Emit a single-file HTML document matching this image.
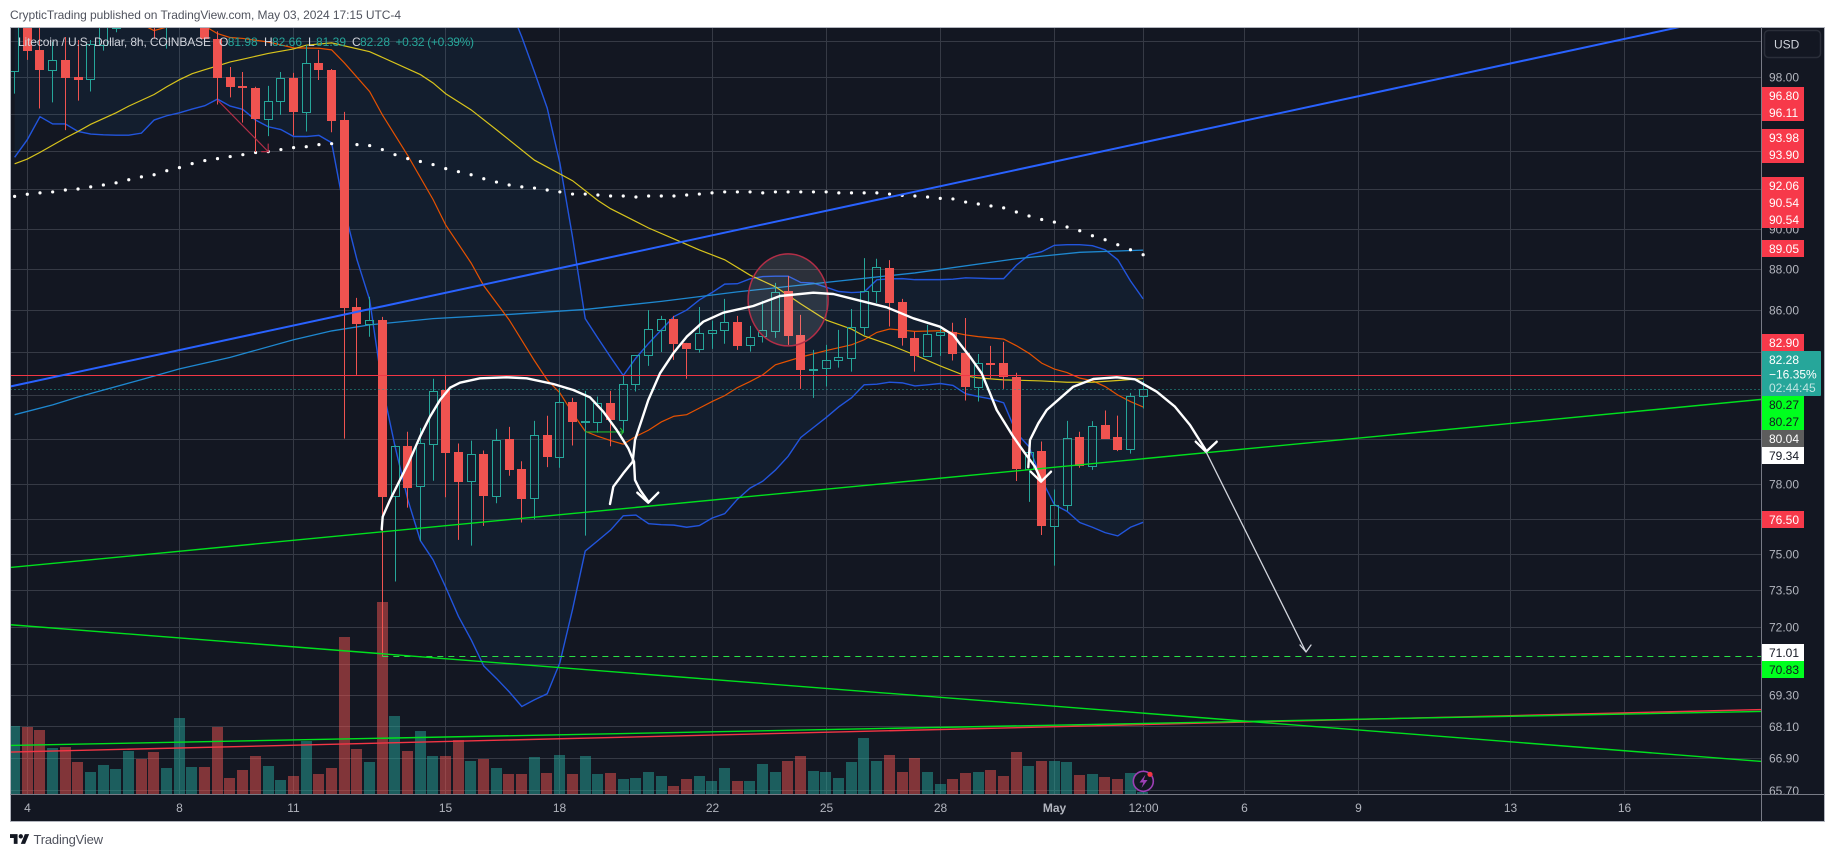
<!DOCTYPE html>
<html lang="en">
<head>
<meta charset="utf-8">
<title>Litecoin / U.S. Dollar, 8h chart</title>
<style>
html,body{margin:0;padding:0;background:#fff;width:1835px;height:857px;overflow:hidden}
svg{display:block}
text{font-family:"Liberation Sans",sans-serif}
.tick{font-size:12px;fill:#b2b5be}
.tagt{font-size:12px;fill:#fff}
.tagd{font-size:12px;fill:#131722}
.leg{font-size:12px;fill:#d1d4dc}
.val{font-size:12px;fill:#26a69a}
</style>
</head>
<body>
<svg id="chart" xmlns="http://www.w3.org/2000/svg" width="1835" height="857" viewBox="0 0 1835 857">
  <defs>
    <clipPath id="plotClip"><rect x="10.5" y="27.5" width="1751" height="767"/></clipPath>
    <clipPath id="axisClip"><rect x="1762" y="27.5" width="62" height="767"/></clipPath>
  </defs>
  <rect x="0" y="0" width="1835" height="857" fill="#ffffff"/>
  <text x="10" y="19" font-size="12" fill="#50535e" textLength="391">CrypticTrading published on TradingView.com, May 03, 2024 17:15 UTC-4</text>
  <rect x="10.5" y="27.5" width="1814" height="794" fill="#131722"/>

  <g id="gridLayer" clip-path="url(#plotClip)"></g>
  <g id="volumeLayer" clip-path="url(#plotClip)"></g>
  <g id="indicatorLayer" clip-path="url(#plotClip)"></g>
  <g id="candleLayer" clip-path="url(#plotClip)"></g>
  <g id="trendLayer" clip-path="url(#plotClip)"></g>

  <g clip-path="url(#plotClip)" fill="none" stroke="#ffffff" stroke-linecap="round" stroke-linejoin="round">
    <path stroke-width="2.4" d="M381.7 529.3 L382.7 516.7 L390 500 L398.3 483.3 L408.3 463.3 L420 436.7 L430 416.7 L440 400 L450 387.7 L460 382.7 L480 378.3 L506.7 377.3 L526.7 378.3 L553.3 384 L573.3 390 L590 397.3 L603.3 411.7 L616.7 430 L628.3 448.3 L634 461.7 L635 480 L640 490 L648.3 501.7"/>
    <path stroke-width="2.4" d="M637.3 492.7 L648.3 502.7 L658.3 492.7"/>
    <path stroke-width="2.4" d="M610 504 L613.3 486.7 L623.3 473.3 L632.7 461.7 L635 440 L641.7 420 L648.3 400 L660 373.3 L673.3 353.3 L686.7 336.7 L703.3 321.7 L723.3 312.7 L753.3 306 L780 296 L813.3 292.7 L833.3 294 L860 300.7 L886.7 307.3 L913.3 318.3 L940 326.7 L953.3 335 L960 344 L970 356.7 L981.7 373.3 L990 393.3 L996.7 410 L1013.3 436.7 L1025 453.3 L1035 466.7 L1041 480"/>
    <path stroke-width="2.4" d="M1030.7 471.7 L1041 481.7 L1051 471.7"/>
    <path stroke-width="2.4" d="M1028.3 467.3 L1030 440 L1038.3 423.3 L1046.7 410 L1060 398.3 L1073.3 386.7 L1093.3 379 L1116.7 377.3 L1135 379.3 L1156.7 391.7 L1175 406.7 L1190 425 L1205.7 450"/>
    <path stroke-width="2.4" d="M1195.7 441.7 L1206 451.7 L1216.7 441.7"/>
    <path stroke="#d1d4dc" stroke-width="1.3" d="M1206 451.7 L1306 652 M1300 645 L1306 652 L1311 645"/>
  </g>

  <g>
    <circle cx="1143.3" cy="781.3" r="10" fill="#131722" stroke="#9c3fb5" stroke-width="1.6"/>
    <path d="M1145.5 774.5 L1139.5 782.5 L1143.3 782.5 L1141.5 788 L1147.5 780 L1143.7 780 Z" fill="#9c3fb5"/>
    <circle cx="1150" cy="774.3" r="2.6" fill="#f23645"/>
  </g>

  <g>
    <text class="leg" x="18" y="46" textLength="193">Litecoin / U.S. Dollar, 8h, COINBASE</text>
    <text class="leg" x="219" y="46">O</text>
    <text class="val" x="227.7" y="46">81.98</text>
    <text class="leg" x="264" y="46">H</text>
    <text class="val" x="272" y="46">82.66</text>
    <text class="leg" x="308" y="46">L</text>
    <text class="val" x="316" y="46">81.39</text>
    <text class="leg" x="352" y="46">C</text>
    <text class="val" x="360" y="46">82.28</text>
    <text class="val" x="395.5" y="46" textLength="78.5">+0.32 (+0.39%)</text>
  </g>

  <g id="priceAxis" clip-path="url(#axisClip)"></g>
  <g id="timeAxis"></g>

  <g>
    <g transform="translate(1761,87)"><rect width="43" height="17" fill="#f7394a"/><text class="tagt" x="8" y="13">96.80</text></g>
    <g transform="translate(1761,104)"><rect width="43" height="17" fill="#f7394a"/><text class="tagt" x="8" y="13">96.11</text></g>
    <g transform="translate(1761,129)"><rect width="43" height="17" fill="#f7394a"/><text class="tagt" x="8" y="13">93.98</text></g>
    <g transform="translate(1761,146)"><rect width="43" height="17" fill="#f7394a"/><text class="tagt" x="8" y="13">93.90</text></g>
    <g transform="translate(1761,177)"><rect width="43" height="17" fill="#f7394a"/><text class="tagt" x="8" y="13">92.06</text></g>
    <g transform="translate(1761,194)"><rect width="43" height="17" fill="#f7394a"/><text class="tagt" x="8" y="13">90.54</text></g>
    <g transform="translate(1761,211)"><rect width="43" height="17" fill="#f7394a"/><text class="tagt" x="8" y="13">90.54</text></g>
    <g transform="translate(1761,240)"><rect width="43" height="17" fill="#f7394a"/><text class="tagt" x="8" y="13">89.05</text></g>
    <g transform="translate(1761,334)"><rect width="43" height="17" fill="#f7394a"/><text class="tagt" x="8" y="13">82.90</text></g>
    <g transform="translate(1761,351)">
      <rect width="60" height="45" rx="1" fill="#26a69a"/>
      <text class="tagt" x="8" y="13">82.28</text>
      <text class="tagt" x="8" y="27.3">−16.35%</text>
      <text class="tagt" x="8" y="41" fill-opacity="0.7">02:44:45</text>
    </g>
    <g transform="translate(1761,396)"><rect width="43" height="17" fill="#00ff1e"/><text class="tagd" x="8" y="13">80.27</text></g>
    <g transform="translate(1761,413)"><rect width="43" height="17" fill="#00ff1e"/><text class="tagd" x="8" y="13">80.27</text></g>
    <g transform="translate(1761,430)"><rect width="43" height="17" fill="#5d5d5d"/><text class="tagt" x="8" y="13">80.04</text></g>
    <g transform="translate(1761,447)"><rect width="43" height="17" fill="#ffffff"/><text class="tagd" x="8" y="13" fill="#333">79.34</text></g>
    <g transform="translate(1761,511)"><rect width="43" height="17" fill="#f7394a"/><text class="tagt" x="8" y="13">76.50</text></g>
    <g transform="translate(1761,644)"><rect width="43" height="17" fill="#ffffff"/><text class="tagd" x="8" y="13" fill="#333">71.01</text></g>
    <g transform="translate(1761,661)"><rect width="43" height="17" fill="#00ff1e"/><text class="tagd" x="8" y="13">70.83</text></g>
  </g>

  <g>
    <rect x="1764.5" y="30.5" width="56" height="27" rx="4" fill="#131722" stroke="#2a2e39" stroke-width="1.5"/>
    <text x="1774" y="48.5" font-size="12" fill="#d1d4dc">USD</text>
  </g>

  <rect x="10.5" y="27.5" width="1814" height="794" fill="none" stroke="#b2b5be"/>
  <line x1="1761.5" y1="27.5" x2="1761.5" y2="821.5" stroke="#787b86"/>
  <line x1="10.5" y1="794.5" x2="1824.5" y2="794.5" stroke="#787b86"/>

  <g>
    <g transform="translate(10,832) scale(.54)" fill="#131722">
      <path d="M14 22H7V11H0V4h14v18z"/><path d="M28 22h-8l7.5-18h8L28 22z"/><circle cx="20" cy="8" r="4"/>
    </g>
    <text x="33.5" y="844" font-size="13" fill="#50535e" textLength="69.5">TradingView</text>
  </g>
</svg>

<script>
// ---- chart data (bars run from -1 to 88, bar 0 = 4 Apr, three bars a day) ----
const firstBar = -1;
const opens = [
98.33,101.5,99.52,98.42,98.96,98.02,97.89,99.81,100.74,101.5,
102,101.5,100.9,101.8,102.3,101.5,100.11,98.02,97.53,97.42,
95.74,96.7,97.96,96.09,98.8,98.41,95.7,86.16,85.35,85.54,
77.48,79.72,77.91,79.8,82.25,79.42,78.16,79.32,77.49,79.99,
78.67,77.42,80.17,79.23,81.7,80.8,80.77,81.65,80.88,82.51,
83.86,85.05,85.59,84.44,84.14,84.9,85.05,85.44,84.35,84.76,
85,86.94,84.81,83.2,83.24,83.63,83.72,85.19,86.93,88.06,
86.4,84.68,83.8,84.81,84.97,83.97,82.4,83.5,83.5,82.86,
78.68,79.46,76.22,77.11,80.08,78.81,80.66,80.08,79.58,81.98];
const closes = [
102,99.48,98.42,98.95,97.98,97.85,99.83,101.2,101.6,102,
101.3,100.8,101.8,102.5,102.6,100.14,97.98,97.48,97.42,95.72,
96.7,97.95,96.09,98.78,98.42,95.65,86.11,85.35,85.52,77.44,
79.72,77.84,79.84,82.19,79.39,78.11,79.32,77.49,79.97,78.64,
77.36,80.2,79.21,81.68,80.77,80.84,81.64,80.89,82.51,83.86,
85.1,85.57,84.41,84.16,84.9,85.05,85.43,84.31,84.74,85.05,
86.88,84.79,83.19,83.21,83.63,83.77,85.19,86.93,88.1,86.37,
84.65,83.8,84.86,84.95,83.93,82.4,83.49,83.45,82.86,78.67,
79.45,76.22,77.11,80.06,78.8,80.6,80.03,79.52,81.96,82.28];
const highs = [
103,102,102,99.96,100.24,100.07,100.07,101.3,102,102.5,
102.6,102,102,103,103,102,100.56,98.57,98.29,97.48,
97.53,98.29,98.24,99.79,99.52,98.46,96.12,86.6,86.65,85.68,
79.72,80.34,80.51,82.76,82.9,79.81,79.94,79.5,80.47,80.56,
79.02,80.83,81.06,82.34,81.88,82.2,81.94,82.2,82.9,83.87,
86.01,85.73,85.73,84.44,86.16,85.5,86.55,85.73,85.25,86.46,
87.33,87.67,85.78,84.11,84.35,85.06,86.06,88.55,88.52,88.45,
86.55,84.97,85.3,85.17,85.4,85.63,83.92,84.3,84.49,83.04,
79.94,79.9,77.78,80.83,80.34,80.82,81.3,81.07,82.11,82.66];
const lows = [
97.11,98.96,96.3,96.63,95.14,96.73,97.22,99.48,100.51,100.9,
101,100.14,99.59,101,101,100.05,96.52,96.9,95.54,93.98,
94.82,95.96,94.86,95.07,97.85,95.03,80.03,82.94,84.73,70.83,
73.87,76.99,75.57,78.16,77.44,75.61,75.37,76.21,77.18,78.38,
76.35,76.49,78.76,78.73,79.72,75.79,80.29,79.69,80.3,82.17,
83.36,84.01,83.64,82.76,83.98,84.16,84.4,84.11,84.03,84.46,
84.68,84.35,82.29,81.88,82.4,83.28,83.09,84.82,86.36,85.22,
84.31,83.09,83.8,83.83,83.61,81.76,81.71,82.76,82.29,78.15,
77.24,75.82,74.53,76.85,78.73,78.64,80.03,79.47,79.36,81.39];
const volumes = [
68.3,66.7,64.3,46.3,47.3,32.3,22.3,29.3,25.3,43.3,
35.3,42.3,26.3,76.3,27.3,27.3,67.3,16.3,24.3,38.3,
28.3,14.3,18.3,53.3,20.3,26.3,157.5,45.3,32.3,192,
78.3,43.3,63.3,38.3,38.3,54.3,33.3,35.3,26.3,20.3,
20.3,37.3,21.3,39.3,20.3,38.3,20.3,21.3,15.3,16.3,
22.3,18.3,8.3,15.3,18.3,13.3,26.3,13.3,13.3,30.3,
22.3,33.3,38.3,23.3,22.3,16.3,32.3,56.3,33.3,39.3,
22.3,36.3,22.3,10.3,15.3,21.3,22.3,24.3,18.3,42.3,
28.3,33.3,33.3,32.3,19.3,20.3,17.3,15.3,21.3,2.3];
const bandUpper = [
112,112,112,112,112,112,112,112,112,112,
112,112,112,112,112,112,112,112,112,112,
112,112,112,112,112,112,112,112,112,112,
112,112,112,112,112,112,112,112,105.8,102,
100.24,98.29,96.33,93.4,89.6,85.6,84.67,83.77,82.91,83.73,
84.42,85.06,85.7,86.01,86.5,86.86,87.27,87.29,87.53,87.64,
87.66,87.66,87.35,87.32,87.12,86.91,86.86,86.89,87.48,87.53,
87.54,87.49,87.49,87.49,87.51,87.58,87.56,87.54,87.54,88.2,
88.71,88.87,89.19,89.22,89.22,89.17,88.97,88.47,87.43,86.55];
const bandLower = [
93.7,94.63,95.86,95.47,95.47,95.07,94.93,94.89,94.87,94.87,
94.98,95.68,95.91,96.07,96.27,96.45,96.81,96.43,96.25,95.68,
95.32,95.17,94.8,94.8,94.86,94.47,90.99,88.47,86.5,82.4,
79.68,77.35,75.58,74.77,73.63,72.44,71.5,70.45,69.96,69.44,
68.87,69.13,69.36,70.58,72.72,75.14,75.58,76.03,76.64,76.67,
76.3,76.26,76.24,76.15,76.22,76.54,76.73,77.35,77.84,78.14,
78.63,79.24,80.08,80.53,80.98,81.47,81.88,82.48,82.51,82.6,
82.57,82.43,82.48,82.54,82.45,82.07,81.94,81.83,81.65,80.29,
79.67,78.2,77.12,76.83,76.35,76.15,75.92,75.78,76.15,76.36];
const dotSeries = [
91.67,91.78,91.85,91.9,92,92.05,92.16,92.26,92.37,92.53,
92.68,92.79,93,93.16,93.37,93.53,93.63,93.74,93.84,93.95,
94,94.11,94.21,94.26,94.37,94.42,94.45,94.37,94.32,94.11,
93.84,93.63,93.48,93.32,93.11,92.95,92.79,92.58,92.41,92.26,
92.16,92.1,92,91.9,91.79,91.79,91.74,91.69,91.69,91.64,
91.69,91.69,91.69,91.74,91.79,91.85,91.9,91.9,91.9,91.85,
91.9,91.9,91.9,91.9,91.9,91.85,91.85,91.85,91.85,91.79,
91.72,91.69,91.64,91.57,91.54,91.38,91.28,91.18,91.08,90.87,
90.67,90.49,90.36,90.11,89.92,89.67,89.47,89.22,88.97,88.72];
const yellowBars = [-1,0,1,3,4,5,7,8,10,11,12,13,14,15,16,17,19,21,22,24,27,31,32,33,35,37,40,43,45,46,49,51,53,55,57,59,61,63,65,66,68,70,72,74,75,77,80,82,84,86,88];
const yellowVals = [93.36,93.61,93.96,94.72,95.07,95.45,96.07,96.43,97.06,97.48,97.87,98.2,98.42,98.63,98.85,99,99.32,99.57,99.78,99.91,99.42,98.15,97.69,97.1,96.23,95.16,93.55,92.48,91.46,91.04,90.06,89.51,88.96,88.47,87.71,87.14,86.31,85.53,85.1,84.77,84.35,83.87,83.36,82.89,82.8,82.71,82.66,82.6,82.6,82.68,82.77];
const orangeBars = [9,10,11,12,13,14,15,16,17,19,21,23,24,25,27,28,30,32,33,35,36,38,40,41,42,43,44,45,46,47,48,49,50,51,52,53,54,55,56,57,58,59,61,63,65,66,67,68,70,72,73,74,75,77,78,79,80,81,82,83,84,85,86,87,88];
const orangeVals = [100.96,100.6,100.8,101.07,101.18,100.85,100.43,100.21,100.16,99.96,99.63,99.61,99.52,98.8,97.22,95.96,93.8,91.51,90.21,88.31,87.19,85.54,83.6,82.71,82.11,81.19,80.36,80.13,79.94,79.78,80.13,80.41,80.78,81.04,81.11,81.41,81.71,81.98,82.35,82.63,82.94,83.41,83.77,84.08,84.35,84.59,84.94,85.1,84.99,85.02,84.94,84.82,84.74,84.62,84.31,83.95,83.49,83.21,83.05,82.79,82.67,82.4,82.01,81.71,81.46];
const longMaBars = [-1,2,4,9,12,16,21,24,27,32,38,44,50,56,62,70,78,83,88];
const longMaVals = [81.11,81.56,81.92,82.72,83.22,83.76,84.59,85.01,85.3,85.6,85.8,86.04,86.43,86.89,87.29,87.82,88.52,88.84,88.95];

// trend lines as [bar, price] endpoints
const blueTrendBars = [-1.36,130.3];
const blueTrendPrices = [82.4,100.8];
const risingGreenBars = [-1.36,136.78];
const risingGreenPrices = [74.45,81.81];
const fallingGreenBars = [-1.36,136.78];
const fallingGreenPrices = [72.1,66.78];
const flatGreenBars = [-1.36,136.78];
const flatGreenPrices = [67.38,68.68];
const flatRedBars = [-1.36,136.78];
const flatRedPrices = [67.13,68.75];

const resistanceLevel = 82.9;
const lastPriceLevel = 82.28;
const targetLevel = 70.83;
const targetStartBar = 28;
const shortArrowBars = [44,47];
const shortArrowPrices = [80.33,80.33];
const redArrowBars = [15,19];
const redArrowPrices = [96.76,94];
const circleBar = 60;
const circlePrice = 86.5;

// axis ticks
const priceTicks = [100,98,96,94,92,90,88,86,84,82,80,78,76.5,75,73.5,72,70.5,69.3,68.1,66.9,65.7];
const timeTickBars = [0,12,21,33,42,54,63,72,81,88,96,105,117,126];
const timeTickLabels = ['4','8','11','15','18','22','25','28','May','12:00','6','9','13','16'];

// ---- axis functions ----
function xOf(bar){ return 27.3 + 12.68 * bar; }
function yOf(price){ return 77.3 + 1783.6 * Math.log(98 / price); }
function volTop(v){ return 794 - v * 1; }

const NS = 'http://www.w3.org/2000/svg';
function mk(tag, attrs, parent){
  const el = document.createElementNS(NS, tag);
  for (const k in attrs) el.setAttribute(k, attrs[k]);
  parent.appendChild(el);
  return el;
}
const gridLayer = document.getElementById('gridLayer');
const volumeLayer = document.getElementById('volumeLayer');
const indicatorLayer = document.getElementById('indicatorLayer');
const candleLayer = document.getElementById('candleLayer');
const trendLayer = document.getElementById('trendLayer');
const priceAxis = document.getElementById('priceAxis');
const timeAxis = document.getElementById('timeAxis');

// grid + tick labels
priceTicks.forEach(function(p){
  const y = Math.floor(yOf(p)) + 0.5;
  const g = mk('line', {x1:10.5, x2:1761.5, y1:y, y2:y, stroke:'#363a45', 'stroke-width':1}, gridLayer);
  
  
  const t = mk('text', {x:1769, y:yOf(p) + 4.3, class:'tick'}, priceAxis);
  
  
  t.textContent = p.toFixed(2);
});
timeTickBars.forEach(function(b, n){
  const x = Math.floor(xOf(b)) + 0.5;
  const g = mk('line', {x1:x, x2:x, y1:27.5, y2:794, stroke:'#363a45', 'stroke-width':1}, gridLayer);
  
  
  const t = mk('text', {x:x, y:812, 'text-anchor':'middle', class:'tick'}, timeAxis);
  
  
  if (timeTickLabels[n] === 'May') t.setAttribute('font-weight', '700');
  t.textContent = timeTickLabels[n];
});

// volume bars
volumes.forEach(function(v, k){
  const x = xOf(k + firstBar);
  const up = closes[k] >= opens[k];
  const top = Math.round(volTop(v));
  const r = mk('rect', {x:Math.round(x - 5.7), y:top, width:11, height:794 - top, fill: up ? 'rgba(38,166,154,.5)' : 'rgba(239,83,80,.5)'}, volumeLayer);
  
  
});

// bollinger fill
(function(){
  const pts = [];
  bandUpper.forEach(function(p, k){ pts.push(xOf(k + firstBar) + ',' + yOf(p)); });
  for (let k = bandLower.length - 1; k >= 0; k--) pts.push(xOf(k + firstBar) + ',' + yOf(bandLower[k]));
  const f = mk('polygon', {points:pts.join(' '), fill:'rgba(33,150,243,.06)'}, indicatorLayer);
  
  
})();

function seriesPoints(bars, vals){
  return vals.map(function(v, k){ return xOf(bars[k]) + ',' + yOf(v); }).join(' ');
}
const allBars = bandUpper.map(function(_, k){ return k + firstBar; });

const upperLine = mk('polyline', {points:seriesPoints(allBars, bandUpper), fill:'none', stroke:'#2255dd', 'stroke-width':1.4}, indicatorLayer);


const lowerLine = mk('polyline', {points:seriesPoints(allBars, bandLower), fill:'none', stroke:'#2255dd', 'stroke-width':1.4}, indicatorLayer);


const longMaLine = mk('polyline', {points:seriesPoints(longMaBars, longMaVals), fill:'none', stroke:'#1e88d0', 'stroke-width':1.3}, indicatorLayer);


const orangeLine = mk('polyline', {points:seriesPoints(orangeBars, orangeVals), fill:'none', stroke:'#e65100', 'stroke-width':1.2}, indicatorLayer);


const yellowLine = mk('polyline', {points:seriesPoints(yellowBars, yellowVals), fill:'none', stroke:'#d8c41c', 'stroke-width':1.2}, indicatorLayer);



dotSeries.forEach(function(p, k){
  const c = mk('circle', {cx:xOf(k + firstBar), cy:yOf(p), r:1.6, fill:'#ffffff'}, indicatorLayer);
  
  
});

// candles
opens.forEach(function(o, k){
  const c = closes[k], h = highs[k], l = lows[k];
  const x = xOf(k + firstBar);
  const up = c >= o;
  const col = up ? '#26a69a' : '#ef5350';
  const top = Math.round(yOf(Math.max(o, c)));
  const bot = Math.round(yOf(Math.min(o, c)));
  const cx = Math.round(x - 0.5) + 0.5;
  const w1 = mk('line', {x1:cx, x2:cx, y1:yOf(h), y2:top, stroke:col, 'stroke-width':1}, candleLayer);
  
  
  const w2 = mk('line', {x1:cx, x2:cx, y1:bot, y2:yOf(l), stroke:col, 'stroke-width':1}, candleLayer);
  
  
  const b = up
    ? mk('rect', {x:cx - 4, y:top + 0.5, width:8, height:Math.max(bot - top, 1), fill:'none', stroke:col, 'stroke-width':1}, candleLayer)
    : mk('rect', {x:cx - 4.5, y:top, width:9, height:Math.max(bot - top, 2), fill:col}, candleLayer);
  
  
});

// highlight circle
const highlight = mk('ellipse', {cx:xOf(circleBar), cy:yOf(circlePrice), rx:40, ry:46, fill:'rgba(255,255,255,.11)', stroke:'#b22e47', 'stroke-width':1.5}, trendLayer);



// horizontal levels
const resY = Math.floor(yOf(resistanceLevel)) + 0.5;
const resLine = mk('line', {x1:10.5, x2:1761.5, y1:resY, y2:resY, stroke:'#f23645', 'stroke-width':1}, trendLayer);


const lastY = Math.floor(yOf(lastPriceLevel)) + 0.5;
const lastLine = mk('line', {x1:10.5, x2:1761.5, y1:lastY, y2:lastY, stroke:'#26a69a', 'stroke-width':1, 'stroke-dasharray':'1 3'}, trendLayer);


const targetY = Math.floor(yOf(targetLevel)) + 0.5;
const targetLine = mk('line', {x1:xOf(targetStartBar), x2:1761.5, y1:targetY, y2:targetY, stroke:'#2adf45', 'stroke-width':1, 'stroke-dasharray':'6 5'}, trendLayer);



// trend lines
const flatRed = mk('line', {x1:xOf(flatRedBars[0]), y1:yOf(flatRedPrices[0]), x2:xOf(flatRedBars[1]), y2:yOf(flatRedPrices[1]), stroke:'#f23645', 'stroke-width':1.4}, trendLayer);


const flatGreen = mk('line', {x1:xOf(flatGreenBars[0]), y1:yOf(flatGreenPrices[0]), x2:xOf(flatGreenBars[1]), y2:yOf(flatGreenPrices[1]), stroke:'#00e01e', 'stroke-width':1.4}, trendLayer);


const fallingGreen = mk('line', {x1:xOf(fallingGreenBars[0]), y1:yOf(fallingGreenPrices[0]), x2:xOf(fallingGreenBars[1]), y2:yOf(fallingGreenPrices[1]), stroke:'#00e01e', 'stroke-width':1.4}, trendLayer);


const risingGreen = mk('line', {x1:xOf(risingGreenBars[0]), y1:yOf(risingGreenPrices[0]), x2:xOf(risingGreenBars[1]), y2:yOf(risingGreenPrices[1]), stroke:'#00e01e', 'stroke-width':1.4}, trendLayer);


const blueTrend = mk('line', {x1:xOf(blueTrendBars[0]), y1:yOf(blueTrendPrices[0]), x2:xOf(blueTrendBars[1]), y2:yOf(blueTrendPrices[1]), stroke:'#2962ff', 'stroke-width':2}, trendLayer);



// small arrows
const sx1 = xOf(shortArrowBars[0]), sx2 = xOf(shortArrowBars[1]), sy = yOf(shortArrowPrices[0]);
const shortArrow = mk('path', {d:'M' + sx1 + ' ' + sy + ' L' + sx2 + ' ' + sy + ' M' + (sx2 - 3) + ' ' + (sy - 4) + ' L' + sx2 + ' ' + sy + ' L' + (sx2 - 3) + ' ' + (sy + 4), fill:'none', stroke:'#1fb82f', 'stroke-width':1.2}, trendLayer);


const rx1 = xOf(redArrowBars[0]), ry1 = yOf(redArrowPrices[0]), rx2 = xOf(redArrowBars[1]), ry2 = yOf(redArrowPrices[1]);
const redArrow = mk('path', {d:'M' + rx1 + ' ' + ry1 + ' L' + rx2 + ' ' + ry2 + ' M' + rx2 + ' ' + (ry2 - 8) + ' L' + rx2 + ' ' + ry2 + ' L' + (rx2 - 7) + ' ' + ry2, fill:'none', stroke:'#b22e47', 'stroke-width':1.2}, trendLayer);


</script>
</body>
</html>
